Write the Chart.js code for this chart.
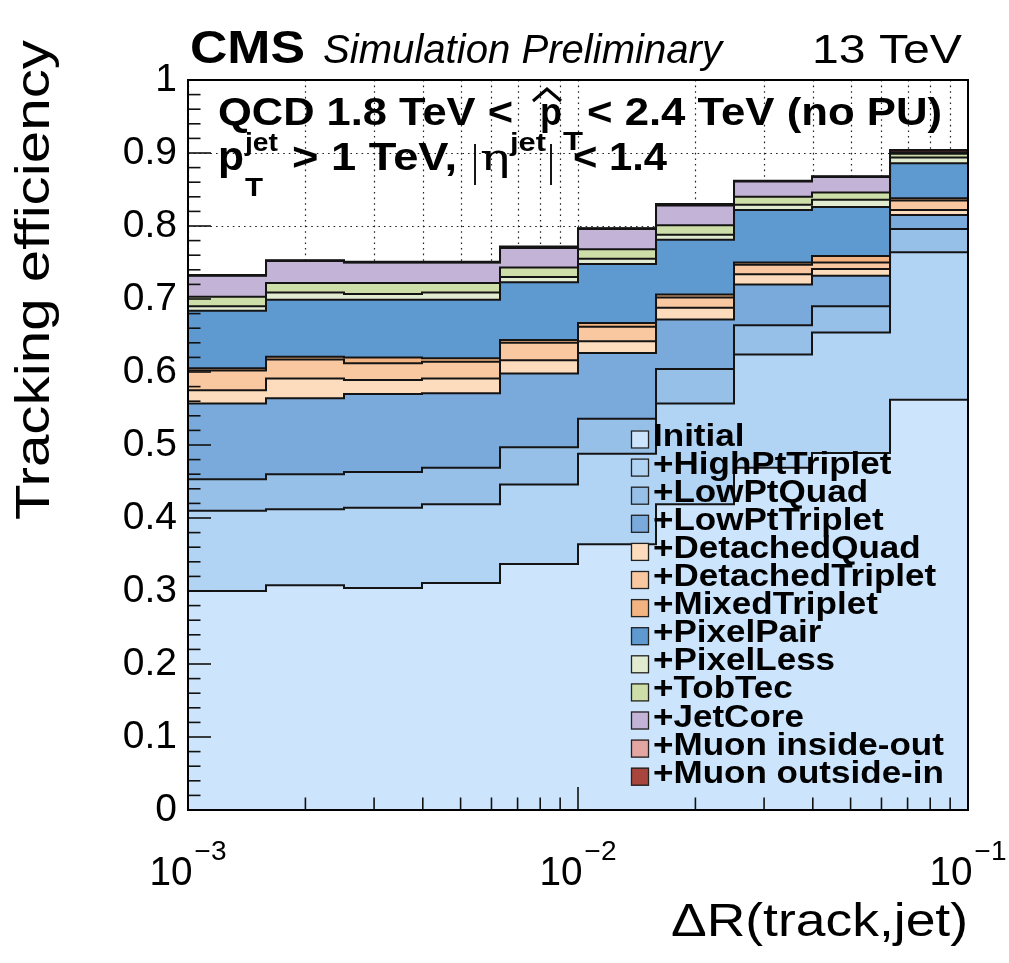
<!DOCTYPE html>
<html><head><meta charset="utf-8">
<script src="https://cdn.jsdelivr.net/npm/chart.js@4.4.1/dist/chart.umd.min.js"></script>
<style>html,body{margin:0;padding:0;background:#fff;}#wrap{position:relative;width:1009px;height:963px;}canvas{display:block;}</style>
</head><body><div id="wrap"><canvas id="c" width="1009" height="963"></canvas></div>
<script>
// ---- data ----
const binEdges = [0.001, 0.001585, 0.002512, 0.003981, 0.00631, 0.01, 0.01585, 0.02512, 0.03981, 0.0631, 0.1];
const initial         = [0.300,0.308,0.304,0.311,0.337,0.364,0.419,0.469,0.489,0.562];
const highPtTriplet   = [0.110,0.104,0.110,0.108,0.109,0.124,0.138,0.155,0.165,0.202];
const lowPtQuad       = [0.043,0.048,0.049,0.050,0.051,0.048,0.047,0.040,0.036,0.032];
const lowPtTriplet    = [0.104,0.104,0.107,0.102,0.101,0.090,0.068,0.056,0.042,0.019];
const detachedQuad    = [0.018,0.027,0.019,0.020,0.018,0.016,0.016,0.014,0.009,0.007];
const detachedTriplet = [0.027,0.026,0.023,0.023,0.024,0.020,0.014,0.013,0.009,0.013];
const mixedTriplet    = [0.003,0.004,0.008,0.005,0.004,0.005,0.004,0.003,0.009,0.003];
const pixelPair       = [0.079,0.078,0.079,0.080,0.079,0.081,0.075,0.072,0.067,0.048];
const pixelLess       = [0.006,0.010,0.008,0.010,0.007,0.007,0.007,0.007,0.010,0.008];
const tobTec          = [0.013,0.013,0.015,0.013,0.013,0.013,0.013,0.011,0.010,0.005];
const jetCore         = [0.029,0.030,0.028,0.028,0.027,0.028,0.027,0.021,0.021,0.001];
const muonInsideOut   = [0.0005,0.0005,0.0005,0.0005,0.001,0.0005,0.001,0.0005,0.0005,0.001];
const muonOutsideIn   = [0.0005,0.0005,0.0005,0.0005,0.001,0.0005,0.001,0.0005,0.0005,0.003];

const layerNames = ['Initial','+HighPtTriplet','+LowPtQuad','+LowPtTriplet','+DetachedQuad','+DetachedTriplet',
  '+MixedTriplet','+PixelPair','+PixelLess','+TobTec','+JetCore','+Muon inside-out','+Muon outside-in'];
const layerValues = [initial,highPtTriplet,lowPtQuad,lowPtTriplet,detachedQuad,detachedTriplet,
  mixedTriplet,pixelPair,pixelLess,tobTec,jetCore,muonInsideOut,muonOutsideIn];
const layerColors = ['#cce5fc','#b1d3f4','#97c0e8','#7aaadb','#fddcbd','#f9c8a0','#f4b482','#5e99d0',
  '#e1ebcf','#cddea9','#c3b3d6','#e3a6a3','#a8463d'];

const xGridTicks = [0.001,0.002,0.003,0.004,0.005,0.006,0.007,0.008,0.009,
  0.01,0.02,0.03,0.04,0.05,0.06,0.07,0.08,0.09,0.1];
const xMajorTicks = [0.001,0.01,0.1];
const xMajorExponents = ['\u22123','\u22122','\u22121'];
const yMajorTicks = [0,0.1,0.2,0.3,0.4,0.5,0.6,0.7,0.8,0.9,1];
const yTickLabels = ['0','0.1','0.2','0.3','0.4','0.5','0.6','0.7','0.8','0.9','1'];

// ---- helpers ----
function toSteps(vals){
  const pts = vals.map((v,i)=>({x:binEdges[i], y:v}));
  pts.push({x:binEdges[binEdges.length-1], y:vals[vals.length-1]});
  return pts;
}
function txt(ctx, s, x, y, font, o){
  o = o || {};
  ctx.save();
  ctx.font = font;
  ctx.fillStyle = '#000';
  const w = ctx.measureText(s).width;
  const sx = o.width ? o.width / w : (o.sx || 1);
  ctx.translate(x, y);
  if (o.rot) ctx.rotate(o.rot);
  ctx.scale(sx, 1);
  ctx.textAlign = o.align || 'left';
  ctx.textBaseline = 'alphabetic';
  ctx.fillText(s, 0, 0);
  ctx.restore();
}
const SANS = '"Liberation Sans", Arial, Helvetica, sans-serif';

const datasets = layerValues.map((vals,i)=>({
  label: layerNames[i],
  data: toSteps(vals),
  backgroundColor: layerColors[i],
  borderColor: '#141414',
  borderWidth: 2,
  pointRadius: 0,
  pointHoverRadius: 0,
  stepped: 'before',
  tension: 0,
  fill: i === 0 ? 'origin' : '-1'
}));

const rootPlugin = {
  id: 'rootStyle',
  beforeDraw(chart){
    const {ctx, chartArea:a, scales:{x, y}} = chart;
    ctx.save();
    ctx.beginPath(); ctx.rect(a.left, a.top, a.right-a.left, a.bottom-a.top); ctx.clip();
    ctx.strokeStyle = '#222'; ctx.lineWidth = 1.2; ctx.setLineDash([1.6, 4]);
    xGridTicks.forEach(v=>{
      const px = Math.round(x.getPixelForValue(v)) + 0.5;
      ctx.beginPath(); ctx.moveTo(px, a.top); ctx.lineTo(px, a.bottom); ctx.stroke();
    });
    yMajorTicks.forEach(v=>{
      const py = Math.round(y.getPixelForValue(v)) + 0.5;
      ctx.beginPath(); ctx.moveTo(a.left, py); ctx.lineTo(a.right, py); ctx.stroke();
    });
    ctx.restore();
  },
  afterDatasetsDraw(chart){
    const {ctx, chartArea:a, scales:{x, y}} = chart;
    ctx.save();
    ctx.strokeStyle = '#111'; ctx.lineWidth = 1.6; ctx.setLineDash([]);
    for (let i = 0; i <= 50; i++){
      const v = i * 0.02;
      const py = y.getPixelForValue(v);
      const len = (i % 5 === 0) ? 23 : 12.5;
      ctx.beginPath(); ctx.moveTo(a.left, py); ctx.lineTo(a.left + len, py); ctx.stroke();
    }
    xGridTicks.forEach(v=>{
      const px = x.getPixelForValue(v);
      const len = xMajorTicks.includes(v) ? 23 : 12.5;
      ctx.beginPath(); ctx.moveTo(px, a.bottom); ctx.lineTo(px, a.bottom - len); ctx.stroke();
    });
    ctx.lineWidth = 2; ctx.strokeStyle = '#000';
    ctx.strokeRect(a.left, a.top, a.right - a.left, a.bottom - a.top);
    ctx.restore();
  },
  afterDraw(chart){
    const {ctx, chartArea:a, scales:{x}} = chart;
    // header
    txt(ctx, 'CMS', 190, 63, 'bold 47px ' + SANS, {width:115});
    txt(ctx, 'Simulation Preliminary', 323, 63, 'italic 40px ' + SANS, {width:399});
    txt(ctx, '13 TeV', 812, 63, '40px ' + SANS, {width:150});
    // line 1
    txt(ctx, 'QCD 1.8 TeV <', 218, 125, 'bold 38px ' + SANS, {width:295});
    txt(ctx, 'p', 540, 125, 'bold 38px ' + SANS, {width:22});
    ctx.save(); ctx.strokeStyle = '#000'; ctx.lineWidth = 3;
    ctx.beginPath(); ctx.moveTo(533, 101); ctx.lineTo(547, 89); ctx.lineTo(561, 101); ctx.stroke(); ctx.restore();
    txt(ctx, 'T', 563, 150, 'bold 26px ' + SANS, {width:20});
    txt(ctx, '< 2.4 TeV (no PU)', 587, 125, 'bold 38px ' + SANS, {width:355});
    // line 2
    txt(ctx, 'p', 218, 170, 'bold 40px ' + SANS, {width:26});
    txt(ctx, 'jet', 245, 151, 'bold 25px ' + SANS, {width:33});
    txt(ctx, 'T', 245, 196, 'bold 26px ' + SANS, {width:18});
    txt(ctx, '> 1 TeV,', 292, 170, 'bold 38px ' + SANS, {width:165});
    txt(ctx, '|', 472, 176, '44px ' + SANS, {width:6});
    txt(ctx, '\u03b7', 480, 170, '38px "DejaVu Serif", serif', {width:30});
    txt(ctx, 'jet', 510, 151, 'bold 25px ' + SANS, {width:36});
    txt(ctx, '|', 548, 176, '44px ' + SANS, {width:6});
    txt(ctx, '< 1.4', 573, 170, 'bold 38px ' + SANS, {width:94});
    // axis titles
    txt(ctx, 'Tracking efficiency', 49, 40, '49px ' + SANS, {rot:-Math.PI/2, align:'right', width:480});
    txt(ctx, '\u0394R(track,jet)', 968, 936, '46px ' + SANS, {align:'right', width:297});
    // x tick labels
    xMajorTicks.forEach((v,i)=>{
      const px = x.getPixelForValue(v);
      const w10 = 43, wsup = 32;
      const left = px - (w10 + wsup + 2) / 2;
      txt(ctx, '10', left, 885, '41px ' + SANS, {width:w10});
      txt(ctx, xMajorExponents[i], left + w10 + 2, 860, '27px ' + SANS, {width:wsup});
    });
    // legend
    const lx = 631, ly0 = 439.5, dy = 28.1;
    layerNames.forEach((name,i)=>{
      const cy = ly0 + i * dy;
      ctx.save();
      ctx.fillStyle = layerColors[i];
      ctx.fillRect(lx, cy - 9, 18, 18);
      ctx.strokeStyle = '#222'; ctx.lineWidth = 1.3;
      ctx.strokeRect(lx + 0.5, cy - 8.5, 17, 17);
      ctx.restore();
      txt(ctx, name, 653, cy + 6, 'bold 31px ' + SANS, {sx:1.13});
    });
  }
};

new Chart(document.getElementById('c'), {
  type: 'line',
  data: { datasets },
  options: {
    responsive: false,
    animation: false,
    events: [],
    layout: { padding: { top: 80, right: 41, left: 0, bottom: 0 } },
    plugins: {
      legend: { display: false },
      tooltip: { enabled: false },
      filler: { drawTime: 'beforeDatasetsDraw' }
    },
    scales: {
      x: {
        type: 'logarithmic',
        min: 0.001, max: 0.1,
        afterBuildTicks: s => { s.ticks = xGridTicks.map(v => ({value: v})); },
        afterFit: s => { s.height = 153; },
        ticks: { display: false },
        grid: { display: false },
        border: { display: false }
      },
      y: {
        type: 'linear',
        stacked: true,
        min: 0, max: 1,
        afterBuildTicks: s => { s.ticks = yMajorTicks.map(v => ({value: v})); },
        afterFit: s => { s.width = 188; },
        ticks: {
          color: '#000',
          padding: 11,
          font: { family: '"Liberation Sans", Arial, sans-serif', size: 39 },
          callback: (v, i) => yTickLabels[yMajorTicks.indexOf(v)] ?? ''
        },
        grid: { display: false, drawTicks: false },
        border: { display: false }
      }
    }
  },
  plugins: [rootPlugin]
});
</script>
</body></html>
